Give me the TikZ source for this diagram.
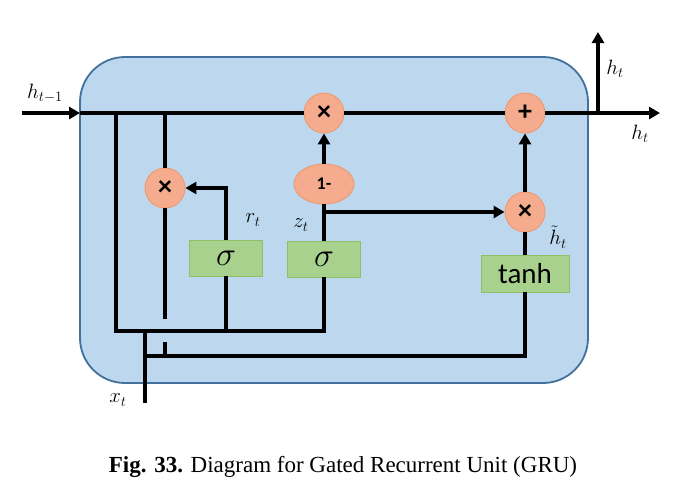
\documentclass[tikz,border=0pt]{standalone}
\usepackage{fontspec}
\usepackage{graphicx}
\setmainfont{Liberation Serif}
\newfontfamily\calib{Carlito}
\usetikzlibrary{shapes.geometric,arrows.meta}
\definecolor{boxfill}{RGB}{189,215,238}
\definecolor{boxdraw}{RGB}{65,113,156}
\definecolor{opfill}{RGB}{245,172,142}
\definecolor{opdraw}{RGB}{240,150,100}
\definecolor{gfill}{RGB}{169,209,142}
\definecolor{gdraw}{RGB}{140,193,104}
\tikzset{
  wire/.style={line width=3.4pt, black},
  arr/.style={wire, -{Triangle[length=11pt,width=12pt]}},
  opnode/.style={circle, minimum size=40pt, inner sep=0pt, fill=opfill, draw=opdraw, line width=0.8pt, font=\calib\bfseries\fontsize{28}{28}\selectfont},
  gate/.style={rectangle, minimum width=73pt, minimum height=36pt, inner sep=0pt, fill=gfill, draw=gdraw, line width=0.8pt},
  lbl/.style={inner sep=0pt, font=\fontsize{20}{22}\selectfont},
}
\newcommand{\bigsig}{\scalebox{1.35}{\fontsize{24}{24}\selectfont$\sigma$}}
\begin{document}
\begin{tikzpicture}[x=1pt,y=-1pt]
\useasboundingbox (0,0) rectangle (684,488);
% cell
\draw[draw=boxdraw, fill=boxfill, line width=1.8pt, rounded corners=45pt] (80,57) rectangle (588,383);
% operator nodes
\node[opnode] (mul1) at (324,113) {×};
\node[opnode] (add) at (525,113) {+};
\node[opnode] (mulr) at (165,188) {×};
\node[opnode] (mulz) at (525,212) {×};
\node[ellipse, minimum width=60pt, minimum height=40pt, inner sep=0pt, fill=opfill, draw=opdraw, line width=0.8pt, font=\calib\bfseries\fontsize{18}{18}\selectfont] (one) at (324,184) {1-};
% gates
\node[gate] (sigr) at (226,258) {\bigsig};
\node[gate] (sigz) at (324,259) {\bigsig};
\node[gate, minimum width=88pt, minimum height=37pt] (tanh) at (525,273.5) {\calib\fontsize{29}{29}\selectfont tanh};
% coordinates
\coordinate (inL) at (22,113);
\coordinate (boxL) at (80,113);
\coordinate (outR) at (660,113);
\coordinate (split) at (598,113);
\coordinate (upTop) at (598,32);
\coordinate (jL) at (116,113);
\coordinate (jLb) at (116,331);
\coordinate (jR) at (226,331);
\coordinate (jZ) at (324,331);
\coordinate (jr) at (165,113);
\coordinate (rA) at (165,319);
\coordinate (rB) at (165,342);
\coordinate (rC) at (165,356);
\coordinate (xB) at (145,403);
\coordinate (xT) at (145,331);
\coordinate (xM) at (145,356);
\coordinate (tB) at (525,356);
\coordinate (zb) at (324,212);
% wires
\draw[arr] (inL) -- (boxL);
\draw[wire] (boxL) -- (mul1.west);
\draw[wire] (mul1.east) -- (add.west);
\draw[arr] (add.east) -- (outR);
\draw[arr] (split) -- (upTop);
\draw[wire] (jL) -- (jLb) -- (jZ) -- (sigz.south);
\draw[wire] (jR) -- (sigr.south);
\draw[wire] (jr) -- (mulr.north);
\draw[wire] (mulr.south) -- (rA);
\draw[wire] (rB) -- (rC);
\draw[wire] (xB) -- (xT);
\draw[wire] (xM) -- (tB) -- (tanh.south);
\draw[arr] (sigr.north) |- (mulr.east);
\draw[wire] (sigz.north) -- (one.south);
\draw[arr] (zb) -- (mulz.west);
\draw[arr] (one.north) -- (mul1.south);
\draw[wire] (tanh.north) -- (mulz.south);
\draw[arr] (mulz.north) -- (add.south);
% labels
\node[lbl] (lhprev) at (45,93) {$h_{t-1}$};
\node[lbl] (lhup) at (615,69) {$h_t$};
\node[lbl] (lhout) at (640,134) {$h_t$};
\node[lbl] (lr) at (253,220) {$r_t$};
\node[lbl] (lz) at (301,225) {$z_t$};
\node[lbl] (lht) at (558,237) {$\tilde{h}_t$};
\node[lbl] (lx) at (118,400) {$x_t$};
% caption
\node (cap) at (343,467) {\fontsize{23}{27}\selectfont\textbf{Fig. 33.} Diagram for Gated Recurrent Unit (GRU)};
\end{tikzpicture}
\end{document}
